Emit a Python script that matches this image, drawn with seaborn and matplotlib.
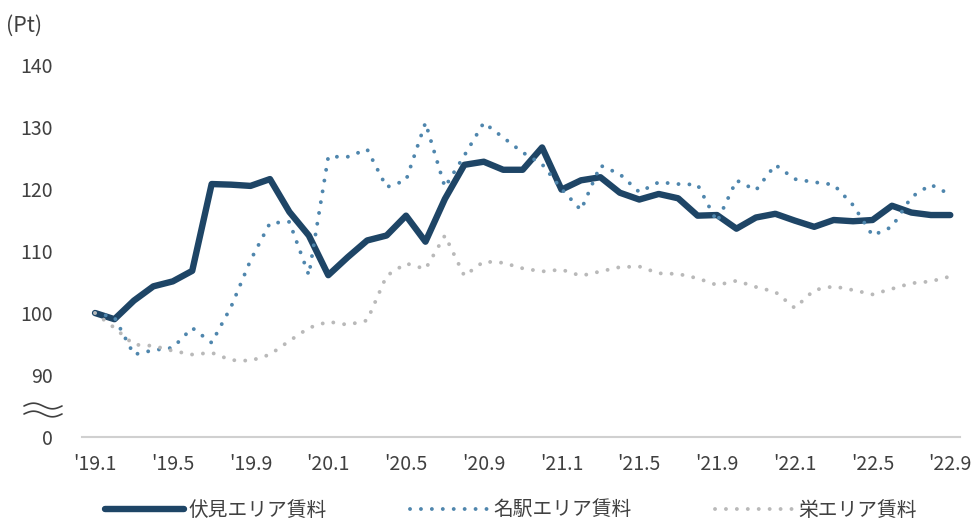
import numpy as np
import pandas as pd
import matplotlib
matplotlib.use("Agg")
import matplotlib.pyplot as plt
from matplotlib.lines import Line2D
import seaborn as sns

# Monthly rent indices (2019.1 = 100), Jan 2019 – Sep 2022
fushimi = [100, 99, 102, 104.3, 105.1, 106.8, 120.8, 120.7, 120.5, 121.6,
           116.3, 112.5, 106.1, 109, 111.7, 112.5, 115.7, 111.5, 118.4, 123.9,
           124.4, 123.1, 123.1, 126.7, 119.9, 121.4, 121.9, 119.4, 118.3, 119.2,
           118.5, 115.7, 115.8, 113.6, 115.4, 116.0, 114.9, 113.9, 115.0, 114.8,
           115.0, 117.3, 116.2, 115.8, 115.8]
meieki = [100, 99.3, 93.3, 94.0, 94.4, 97.6, 95.2, 101.0, 108.5, 114.5,
          114.7, 106.1, 125.2, 125.2, 126.4, 120.3, 121.4, 130.7, 120.3, 125.4,
          130.7, 128.3, 125.9, 124.0, 120.0, 116.6, 123.8, 122.4, 119.5, 121.1,
          120.8, 120.7, 114.7, 121.4, 119.8, 123.9, 121.6, 121.1, 120.7, 117.4,
          112.5, 113.9, 118.7, 120.7, 119.1]
sakae = [100, 97.6, 94.9, 94.7, 93.9, 93.3, 93.6, 92.4, 92.3, 93.3,
         95.5, 97.6, 98.6, 98.1, 98.8, 106.0, 108.0, 107.1, 112.5, 106.0,
         108.3, 108.1, 107.2, 106.7, 107.0, 106.0, 106.7, 107.4, 107.5, 106.4,
         106.3, 105.6, 104.5, 105.2, 104.2, 103.4, 100.8, 103.7, 104.3, 103.7,
         103.0, 103.9, 104.8, 105.1, 105.9]

series_names = ["伏見エリア賃料", "名駅エリア賃料", "栄エリア賃料"]
x_tick_labels = ["'19.1", "'19.5", "'19.9", "'20.1", "'20.5", "'20.9",
                 "'21.1", "'21.5", "'21.9", "'22.1", "'22.5", "'22.9"]
y_tick_values = [80, 90, 100, 110, 120, 130, 140]
y_tick_labels = ["0", "90", "100", "110", "120", "130", "140"]

month = np.arange(len(fushimi))
df = pd.DataFrame({"month": month,
                   series_names[0]: fushimi,
                   series_names[1]: meieki,
                   series_names[2]: sakae})

sns.set_theme(style="white")
plt.rcParams["font.family"] = ["Noto Sans CJK JP", "DejaVu Sans"]

W, H = 979, 519
fig = plt.figure(figsize=(W / 100, H / 100), dpi=100)
ax = fig.add_axes([82 / W, (H - 437) / H, (960 - 82) / W, (437 - 65) / H])

c_fushimi = "#1e4566"
c_meieki = "#4f86ad"
c_sakae = "#b9b9b9"
text_c = "#404040"
dot = (0, (0.01, 2.8))

sns.lineplot(data=df, x="month", y=series_names[0], ax=ax, color=c_fushimi,
             lw=4.6, solid_capstyle="round", solid_joinstyle="round")
sns.lineplot(data=df, x="month", y=series_names[1], ax=ax, color=c_meieki,
             lw=2.8, linestyle=dot, dash_capstyle="round")
sns.lineplot(data=df, x="month", y=series_names[2], ax=ax, color=c_sakae,
             lw=2.8, linestyle=dot, dash_capstyle="round")

ax.set_xlim(-0.67, 44.5)
ax.set_ylim(80, 140)
ax.set_xticks(month[::4])
ax.set_xticklabels(x_tick_labels, fontsize=14, color=text_c)
ax.set_yticks(y_tick_values)
ax.set_yticklabels(y_tick_labels, fontsize=14, color=text_c)
ax.tick_params(axis="both", length=0)
ax.tick_params(axis="y", pad=21)
ax.tick_params(axis="x", pad=12)
ax.set_xlabel("")
ax.set_ylabel("")
for side in ["top", "right", "left"]:
    ax.spines[side].set_visible(False)
ax.spines["bottom"].set_color("#d0d0d0")
ax.spines["bottom"].set_linewidth(1.5)
ax.grid(False)

# unit label
fig.text(6 / W, 1 - 26 / H, "(Pt)", fontsize=15.5, color=text_c,
         ha="left", va="center")

# axis break mark between 0 and 90
t = np.linspace(0, 1, 60)
for yc in (406, 414):
    xs = (24 + 38 * t) / W
    ys = 1 - (yc - 2.8 * np.sin(2 * np.pi * t)) / H
    fig.add_artist(Line2D(xs, ys, color=text_c, lw=1.2,
                          transform=fig.transFigure))

# legend
handles = [
    Line2D([], [], color=c_fushimi, lw=4.6, solid_capstyle="round"),
    Line2D([], [], color=c_meieki, lw=2.8, linestyle=dot, dash_capstyle="round"),
    Line2D([], [], color=c_sakae, lw=2.8, linestyle=dot, dash_capstyle="round"),
]
if ax.get_legend() is not None:
    ax.get_legend().remove()
fig.legend(handles, series_names, loc="center", ncol=3,
           bbox_to_anchor=(0.522, 1 - 510 / H), frameon=False,
           fontsize=14.2, handlelength=4.0, handletextpad=0.25,
           columnspacing=4.2, labelcolor=text_c)

fig.savefig("out.png", dpi=100, facecolor="white")
